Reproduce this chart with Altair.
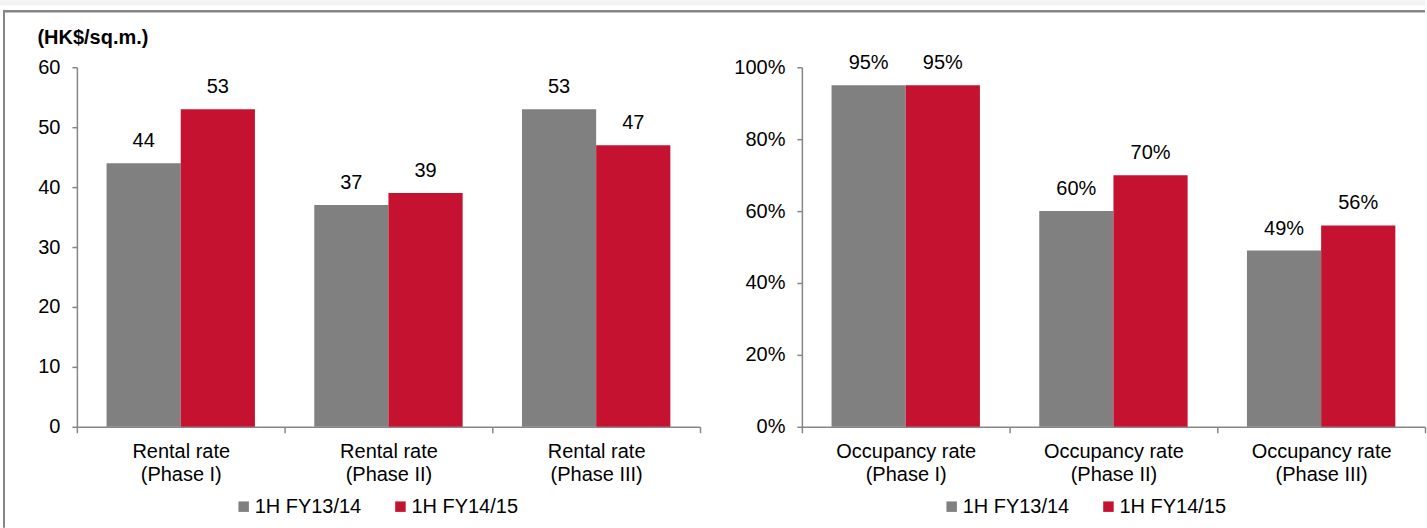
import altair as alt
import pandas as pd

# ---- data ----
series = ["1H FY13/14", "1H FY14/15"]
rental_cats = ["Rental rate\n(Phase I)", "Rental rate\n(Phase II)", "Rental rate\n(Phase III)"]
rental_1314 = [44, 37, 53]
rental_1415 = [53, 39, 47]
occ_cats = ["Occupancy rate\n(Phase I)", "Occupancy rate\n(Phase II)", "Occupancy rate\n(Phase III)"]
occ_1314 = [0.95, 0.60, 0.49]
occ_1415 = [0.95, 0.70, 0.56]
rental_ticks = [0, 10, 20, 30, 40, 50, 60]
occ_ticks = [0, 0.2, 0.4, 0.6, 0.8, 1.0]

GRAY_BAR = "#808080"
RED = "#C41230"
AXIS = "#868686"
FONT = "Liberation Sans"
W, H = 624, 360


def make_df(cats, a, b):
    rows = []
    for c, v in zip(cats, a):
        rows.append({"cat": c, "series": series[0], "value": v})
    for c, v in zip(cats, b):
        rows.append({"cat": c, "series": series[1], "value": v})
    return pd.DataFrame(rows)


def panel(df, cats, ydomain, yticks, yfmt, ytitle, legend_x):
    xs = alt.Scale(paddingInner=0, paddingOuter=0)
    xo = alt.XOffset("series:N", sort=series, scale=alt.Scale(paddingInner=0, paddingOuter=0.4))
    x_axis = alt.Axis(
        title=None, labelAngle=0, labelExpr="split(datum.label, '\\n')",
        labelFontSize=20, labelColor="black", labelLineHeight=23, labelPadding=9,
        tickBand="extent", tickSize=6, tickColor=AXIS, tickWidth=1.5,
        domainColor=AXIS, domainWidth=1.5,
    )
    yaxis_kwargs = dict(
        values=yticks, format=yfmt, grid=False, labelFontSize=20, labelColor="black",
        labelPadding=12, tickSize=5, tickColor=AXIS, tickWidth=1.5,
        domainColor=AXIS, domainWidth=1.5,
    )
    if ytitle:
        y_axis = alt.Axis(
            title=ytitle, titleAngle=0, titleAlign="left", titleBaseline="alphabetic",
            titleX=-40, titleY=-24, titleFontSize=20, titleFontWeight="bold",
            titleColor="black", **yaxis_kwargs,
        )
    else:
        y_axis = alt.Axis(title=None, **yaxis_kwargs)
    y = alt.Y("value:Q", scale=alt.Scale(domain=ydomain, nice=False), axis=y_axis)
    base = alt.Chart(df)
    bars = base.mark_bar().encode(
        x=alt.X("cat:N", sort=cats, scale=xs, axis=x_axis),
        xOffset=xo,
        y=y,
        color=alt.Color(
            "series:N", sort=series,
            scale=alt.Scale(domain=series, range=[GRAY_BAR, RED]),
            legend=alt.Legend(
                orient="none", legendX=legend_x, legendY=430, direction="horizontal",
                title=None, symbolType="square", symbolSize=110, symbolStrokeWidth=0,
                labelFontSize=20, labelColor="black", columnPadding=29, labelOffset=1,
            ),
        ),
    )
    labels = base.mark_text(baseline="alphabetic", dy=-16, fontSize=20, color="black").encode(
        x=alt.X("cat:N", sort=cats, scale=xs, axis=x_axis),
        xOffset=xo,
        y=y,
        text=alt.Text("value:Q", format=yfmt),
    )
    return bars, labels


rental_df = make_df(rental_cats, rental_1314, rental_1415)
occ_df = make_df(occ_cats, occ_1314, occ_1415)

lb, ll = panel(rental_df, rental_cats, [0, 60], rental_ticks, "d", "(HK$/sq.m.)", 157)
rb, rl = panel(occ_df, occ_cats, [0, 1], occ_ticks, ".0%", None, 140)

one = alt.Data(values=[{"k": 1}])
band = alt.Chart(one).mark_rect(color="#f2f2f2").encode(
    x=alt.value(-77), x2=alt.value(1350), y=alt.value(-67), y2=alt.value(-62))
top_line = alt.Chart(one).mark_rule(color=AXIS, strokeWidth=2.5).encode(
    x=alt.value(-74), x2=alt.value(1350), y=alt.value(-56))
left_line = alt.Chart(one).mark_rule(color=AXIS, strokeWidth=2).encode(
    x=alt.value(-73), y=alt.value(-57), y2=alt.value(461))

left = alt.layer(band, top_line, left_line, lb, ll).properties(width=W, height=H)
right = alt.layer(rb, rl).properties(width=W, height=H)

chart = (
    alt.hconcat(left, right, spacing=102, bounds="flush")
    .resolve_scale(color="independent")
    .resolve_legend(color="independent")
    .properties(padding=0)
    .configure(font=FONT)
    .configure_view(strokeWidth=0)
)

chart.save("out.html", embed_options={"renderer": "svg", "actions": False})
